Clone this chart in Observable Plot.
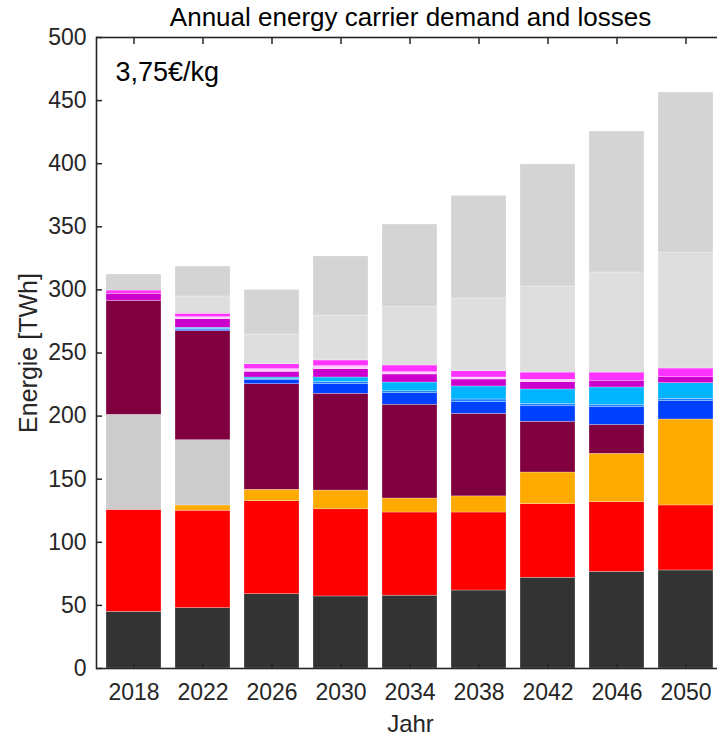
<!DOCTYPE html>
<html>
<head>
<meta charset="utf-8">
<script src="https://cdn.jsdelivr.net/npm/d3@7"></script>
<script src="https://cdn.jsdelivr.net/npm/@observablehq/plot@0.6"></script>
<style>
  html, body { margin: 0; padding: 0; background: #fff; }
  #chart svg { display: block; }
</style>
</head>
<body>
<div id="chart"></div>
<script>
// Years (x categories)
const years = ["2018", "2022", "2026", "2030", "2034", "2038", "2042", "2046", "2050"];
// Y tick values
const yTicks = [0, 50, 100, 150, 200, 250, 300, 350, 400, 450, 500];

// Series, bottom to top of each stack (TWh)
const seriesNames = [
  "Strom", "Erdgas", "Wasserstoff", "Sonstige", "Öl",
  "Biomasse", "Fernwärme", "Umweltwärme", "Solarthermie",
  "Sonstige EE", "Abwärme", "Verluste 1", "Verluste 2"
];
const seriesColors = [
  "#333333", "#ff0000", "#ffaa00", "#cccccc", "#80003f",
  "#0040ff", "#1a80ff", "#00b4ff", "#cc00cc",
  "#ffccff", "#ff33ff", "#dedede", "#d4d4d4"
];
const strom        = [44.9, 47.8, 58.9, 57.1, 57.7, 61.8, 71.9, 76.6, 77.7];
const erdgas       = [80.8, 77.2, 73.7, 69.1, 65.9, 61.8, 58.3, 55.2, 51.5];
const wasserstoff  = [0, 4.2, 9.0, 14.8, 11.1, 12.8, 25.1, 38.3, 68.1];
const sonstige     = [75.3, 51.7, 0, 0, 0, 0, 0, 0, 0];
const oel          = [90.3, 86.4, 83.7, 76.7, 74.3, 65.4, 40.2, 22.9, 0];
const biomasse     = [0, 1.2, 3.5, 7.8, 9.2, 9.5, 12.3, 14.1, 14.5];
const fernwaerme   = [0, 0.5, 0.5, 1.4, 1.5, 1.9, 1.9, 1.9, 1.9];
const umweltwaerme = [0, 1.0, 1.3, 3.7, 6.9, 10.3, 11.4, 13.7, 12.4];
const solarthermie = [5.6, 6.8, 4.5, 6.6, 6.4, 5.5, 5.8, 5.3, 4.7];
const sonstigeEE   = [0, 1.6, 2.1, 2.4, 1.8, 1.6, 1.9, 0, 0];
const abwaerme     = [2.6, 2.7, 3.9, 4.5, 5.3, 5.0, 5.7, 6.5, 6.9];
const verluste1    = [0, 13.7, 23.6, 35.6, 46.2, 57.6, 68.2, 79.3, 91.9];
const verluste2    = [12.7, 23.7, 35.3, 46.8, 65.5, 81.4, 96.7, 111.7, 126.8];

const seriesValues = [strom, erdgas, wasserstoff, sonstige, oel, biomasse, fernwaerme,
  umweltwaerme, solarthermie, sonstigeEE, abwaerme, verluste1, verluste2];

const rows = [];
years.forEach((yr, i) => {
  seriesNames.forEach((s, j) => {
    const v = seriesValues[j][i];
    if (v > 0) rows.push({year: yr, series: s, value: v});
  });
});

const font = "Liberation Sans, Arial, Helvetica, sans-serif";
const ink = "#262626";

const chart = Plot.plot({
  width: 717,
  height: 738,
  marginTop: 37,
  marginBottom: 70,
  marginLeft: 96,
  marginRight: -7,
  style: {fontFamily: font, color: ink, background: "#fff"},
  x: {domain: years, paddingInner: 0.2, paddingOuter: 0.086, label: null},
  y: {domain: [0, 500], label: null},
  color: {domain: seriesNames, range: seriesColors},
  marks: [
    Plot.barY(rows, {
      x: "year", y: "value", fill: "series",
      stroke: "#ffffff", strokeOpacity: 0.45, strokeWidth: 0.6
    }),
    Plot.frame({stroke: ink, strokeWidth: 1.6}),
    Plot.axisY({ticks: yTicks, tickSize: -6, tickPadding: 16, fontSize: 23,
      stroke: ink, fill: ink, strokeWidth: 1.5, label: null}),
    Plot.axisX({anchor: "bottom", tickSize: -5, tickPadding: 20, fontSize: 23,
      stroke: ink, fill: ink, strokeWidth: 1.5, label: null}),
    Plot.axisX({anchor: "top", tickSize: -6, tickFormat: () => "",
      stroke: ink, strokeWidth: 1.5, label: null}),
    Plot.text(["Annual energy carrier demand and losses"], {
      frameAnchor: "top", dy: -20, lineAnchor: "middle", fontSize: 26, fill: "#000", fontFamily: font
    }),
    Plot.text(["Jahr"], {
      frameAnchor: "bottom", dy: 56, lineAnchor: "middle", fontSize: 24, fill: ink, fontFamily: font
    }),
    Plot.text(["Energie [TWh]"], {
      frameAnchor: "left", dx: -68, rotate: -90, textAnchor: "middle", lineAnchor: "middle",
      fontSize: 25, fill: ink, fontFamily: font
    }),
    Plot.text(["3,75€/kg"], {
      frameAnchor: "top-left", dx: 19, dy: 35, textAnchor: "start", lineAnchor: "middle",
      fontSize: 27, fill: "#000", fontFamily: font
    })
  ]
});

document.getElementById("chart").appendChild(chart);
</script>
</body>
</html>
